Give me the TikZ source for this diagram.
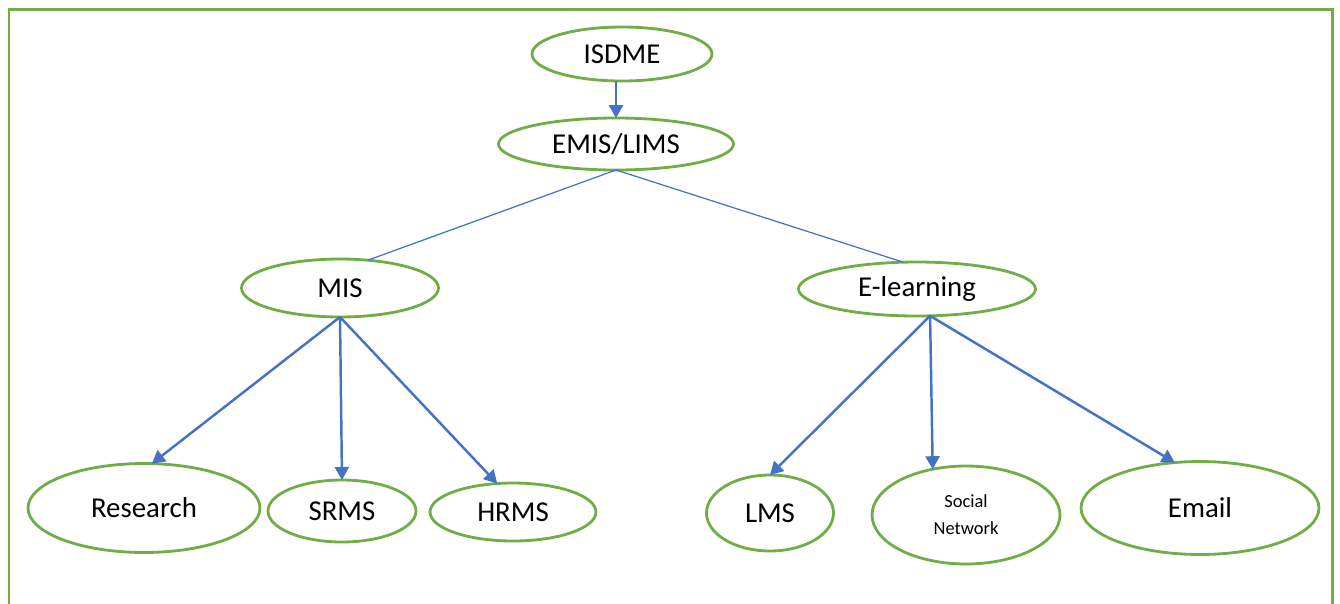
\documentclass[tikz,border=0pt]{standalone}
\usepackage{fontspec}
\setmainfont{Carlito}
\usetikzlibrary{shapes.geometric,arrows.meta}
\definecolor{ovalgreen}{RGB}{112,173,71}
\definecolor{linkblue}{RGB}{68,114,196}

\begin{document}
\begin{tikzpicture}[x=0.02cm,y=-0.02cm,
    oval/.style={ellipse,draw=ovalgreen,line width=1.6pt,inner sep=1pt,outer sep=0pt,font=\fontsize{16.4}{19}\selectfont},
    arr/.style={draw=linkblue,line width=1.4pt,-{Triangle[length=0.26cm,width=0.28cm]}},
    link/.style={draw=linkblue,line width=0.7pt}]
    \useasboundingbox (0,0) rectangle (1340,603);
    \draw[ovalgreen,line width=1.7pt](9,615)--(9,9)--(1332,9)--(1332,615);
    % top levels
    \node[oval,minimum width=3.6cm,minimum height=1.08cm] (isdme) at (622,54) {ISDME};
    \node[oval,minimum width=4.7cm,minimum height=1.04cm] (emis) at (616,144) {EMIS/LIMS};
    \node[oval,minimum width=3.94cm,minimum height=1.16cm] (mis) at (340,288) {MIS};
    \node[oval,minimum width=4.74cm,minimum height=1.08cm] (elearn) at (917,289) {E-learning};
    % leaves
    \node[oval,minimum width=4.64cm,minimum height=1.78cm] (research) at (144,508) {Research};
    \node[oval,minimum width=2.96cm,minimum height=1.24cm] (srms) at (342,511) {SRMS};
    \node[oval,minimum width=3.32cm,minimum height=1.16cm] (hrms) at (513,512) {HRMS};
    \node[oval,minimum width=2.54cm,minimum height=1.52cm] (lms) at (770,513) {LMS};
    \node[oval,minimum width=3.76cm,minimum height=1.96cm,align=center,font=\fontsize{10.5}{15.4}\selectfont] (social) at (966,515) {Social\\Network};
    \node[oval,minimum width=4.76cm,minimum height=1.86cm] (email) at (1200,508) {Email};
    % connectors
    \draw[arr](emis.north |- isdme.south)--(emis.north);
    \draw[link](emis.south)--(mis.45);
    \draw[link](emis.south)--(elearn.117);
    \draw[arr](mis.south)--(research.80);
    \draw[arr](mis.south)--(srms.north);
    \draw[arr](mis.south)--(hrms.119);
    \draw[arr](elearn.296)--(lms.north);
    \draw[arr](elearn.296)--(social.126);
    \draw[arr](elearn.296)--(email.119);
\end{tikzpicture}
\end{document}
